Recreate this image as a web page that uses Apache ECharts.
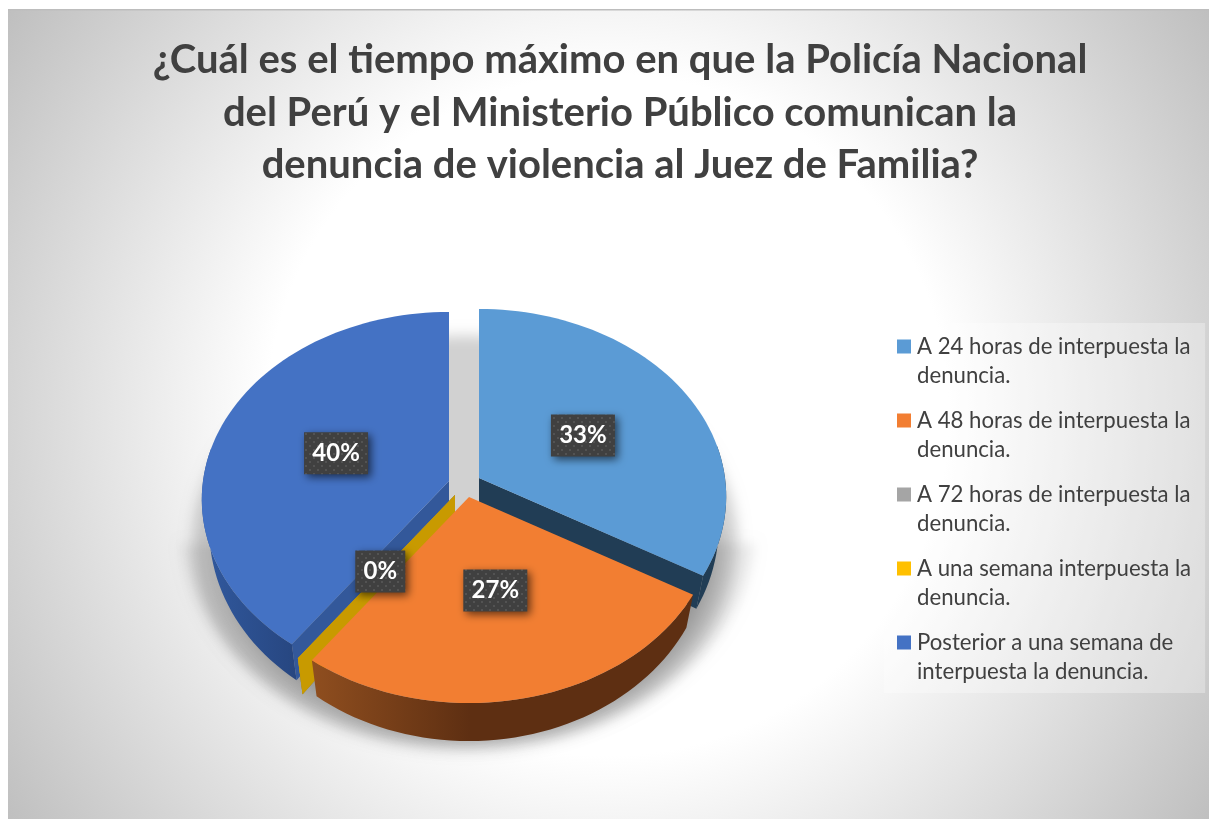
<!DOCTYPE html>
<html><head><meta charset="utf-8">
<style>html,body{margin:0;padding:0;background:#fff}#c{width:1209px;height:819px}</style>
<script src="https://cdn.jsdelivr.net/npm/echarts@6/dist/echarts.min.js"></script>
</head><body><div id="c"></div>
<script>
const titleLines = ['¿Cuál es el tiempo máximo en que la Policía Nacional','del Perú y el Ministerio Público comunican la','denuncia de violencia al Juez de Familia?'];
const categories = ['A 24 horas de interpuesta la denuncia.','A 48 horas de interpuesta la denuncia.','A 72 horas de interpuesta la denuncia.','A una semana interpuesta la denuncia.','Posterior a una semana de interpuesta la denuncia.'];
const values = [10, 8, 0, 0, 12];
const showLabel = [true, true, false, true, true];

// styles and layout, separate from the data
const topColors = ['#5b9bd5','#f27e32','#a5a5a5','#ffc000','#4472c4'];
const radialWall = ['#213d55','#5e2f12','#7c7c7c','#c89a00','#33589a'];
const FONT = 'Lato';
const apex = [[479,478],[469,497],[455,495],[455,495],[449,481]];
const labelFrac = [0.49,0.49,0.49,0.49,0.49];
const labelShift = [[2,2],[0,0],[0,0],[-1,0],[0,0]];
const paintOrder = [1,5,3,4,2];
const R = 246, RY = 185.7, K = 0.0987;

const total = values.reduce((a,b)=>a+b,0);
const angles = []; { let c = 0; values.forEach(v=>{ angles.push([c/total*360,(c+v)/total*360]); c+=v; }); }

function proj(ax, ay, deg, f){
  f = f===undefined?1:f;
  const t = deg*Math.PI/180, u = Math.sin(t), v = -Math.cos(t), w = 1-K*v*f;
  return [ax+R*u*f/w, ay+RY*v*f/w];
}
function depth(deg,f){ return 28+10*(-Math.cos(deg*Math.PI/180))*(f===undefined?1:f); }
function bottom(ax,ay,deg,f){
  const p = proj(ax,ay,deg,f);
  return [ax+(p[0]-ax)*0.97, p[1]+depth(deg,f)];
}
function arc(a0,a1){ const n=Math.max(1,Math.ceil((a1-a0)/2)),r=[]; for(let i=0;i<=n;i++) r.push(a0+(a1-a0)*i/n); return r; }

function rimFill(i){
  if(i===1) return {type:'linear',x:312,y:0,x2:470,y2:0,global:true,colorStops:[{offset:0,color:'#8f4e1f'},{offset:1,color:'#5e2f12'}]};
  if(i===4) return {type:'linear',x:202,y:0,x2:296,y2:0,global:true,colorStops:[{offset:0,color:'#31599e'},{offset:1,color:'#274680'}]};
  return radialWall[i];
}
const pat = document.createElement('canvas'); pat.width = pat.height = 8;
{ const g = pat.getContext('2d'); g.fillStyle='#404040'; g.fillRect(0,0,8,8); g.fillStyle='#535353'; g.fillRect(1,1,2,2); g.fillRect(5,5,2,2); }

// only the blurred shadow of an off-page shape lands on the page, so its edge stays soft
const OFF = 3000;
function softShadow(points, alpha, blur, z2){
  return {type:'polygon',z2,shape:{points:points.map(p=>[p[0]-OFF,p[1]])},
    style:{fill:'#000',shadowBlur:blur,shadowColor:'rgba(0,0,0,'+alpha+')',shadowOffsetX:OFF,shadowOffsetY:0}};
}

function renderSlice(i){
  return function(){
    const [ax,ay] = apex[i], [a0,a1] = angles[i], o = paintOrder[i]*10, kids = [];
    if(i===0){
      kids.push(softShadow(arc(100,260).map(d=>proj(468,505,d,1.16)),0.07,12,1));
      kids.push(softShadow(arc(0,360).map(d=>proj(465,520,d,1.1)),0.18,14,2));
      kids.push(softShadow(arc(90,270).map(d=>proj(470,530,d,1.0)),0.22,20,3));
    }
    const w0 = Math.max(a0,80), w1 = Math.min(a1,280);
    if(w1>w0){
      const s = arc(w0,w1);
      kids.push({type:'polygon',z2:o,shape:{points:s.map(d=>proj(ax,ay,d)).concat(s.slice().reverse().map(d=>bottom(ax,ay,d)))},style:{fill:rimFill(i)}});
    }
    [a0,a1].forEach((d,j)=>{
      if(i===1) return;
      kids.push({type:'polygon',z2:o+1+j,shape:{points:[[ax,ay],proj(ax,ay,d),bottom(ax,ay,d),[ax,ay+depth(0,0)]]},style:{fill:radialWall[i]}});
    });
    if(a1>a0){
      kids.push({type:'polygon',z2:o+5,shape:{points:[[ax,ay]].concat(arc(a0,a1).map(d=>proj(ax,ay,d)))},style:{fill:topColors[i]}});
    }
    if(showLabel[i]){
      const txt = Math.round(values[i]/total*100)+'%';
      const m = proj(ax,ay,(a0+a1)/2,labelFrac[i]);
      const c = [m[0]+labelShift[i][0],m[1]+labelShift[i][1]];
      const bw = 22+14*txt.length, bh = 42;
      kids.push({type:'rect',z2:100,shape:{x:c[0]-bw/2,y:c[1]-bh/2,width:bw,height:bh},style:{fill:{image:pat,repeat:'repeat'},shadowBlur:9,shadowColor:'rgba(0,0,0,0.6)',shadowOffsetX:3,shadowOffsetY:3}});
      kids.push({type:'text',z2:101,style:{x:c[0],y:c[1],text:txt,fill:'#fff',font:'bold 24px '+FONT,align:'center',verticalAlign:'middle'}});
    }
    return {type:'group',children:kids};
  };
}

const chart = echarts.init(document.getElementById('c'),null,{renderer:'canvas'});
chart.setOption({
  animation:false,
  graphic:[
    {type:'rect',z:-10,silent:true,shape:{x:8,y:10,width:1201,height:809},style:{fill:{type:'radial',x:608,y:415,r:725,global:true,colorStops:[{offset:0,color:'#ffffff'},{offset:0.47,color:'#ffffff'},{offset:1,color:'#bfbfbf'}]}}},
    {type:'rect',z:-9,silent:true,shape:{x:8,y:9,width:1201,height:1.5},style:{fill:'#bdbdbd'}}
  ],
  title:{text:titleLines.join('\n'),left:615,top:29,textAlign:'center',textStyle:{fontFamily:FONT,fontWeight:'bold',fontSize:40,lineHeight:52.5,color:'#404040'}},
  legend:{
    orient:'vertical',left:884,top:323,padding:[9,14,7,13],itemGap:16,itemWidth:15,itemHeight:58,
    backgroundColor:'rgba(255,255,255,0.3)',
    icon:'path://M0 0L0 0Z M0 7.5H14V21.5H0Z M15 58L15 58Z',
    data:categories,
    formatter:n=>n.replace(/(\S+ la|semana de) /,'$1\n'),
    textStyle:{fontFamily:FONT,fontSize:22.2,lineHeight:29,color:'#404040'}
  },
  series:categories.map((name,i)=>({
    type:'custom',name,coordinateSystem:'none',silent:true,clip:false,
    itemStyle:{color:topColors[i]},
    data:[[values[i]]],
    renderItem:renderSlice(i)
  }))
});
</script></body></html>
